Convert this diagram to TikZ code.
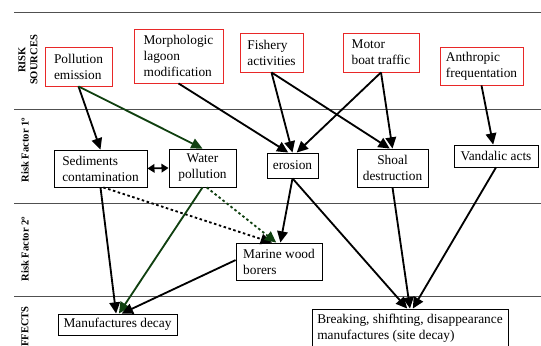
\documentclass[tikz,border=0pt]{standalone}
\usepackage{fontspec}
\setmainfont{Liberation Serif}
\usetikzlibrary{arrows.meta,positioning}
\definecolor{srcred}{RGB}{232,40,40}
\definecolor{darkgrn}{RGB}{16,64,16}
\definecolor{rowline}{RGB}{80,80,80}

\begin{document}
\begin{tikzpicture}[
    x=0.025cm,y=-0.025cm,
    src/.style={rectangle,draw=srcred,line width=0.6pt,align=left,font=\fontsize{9.5}{11.4}\selectfont,inner sep=2pt},
    fact/.style={rectangle,draw,line width=0.6pt,align=left,font=\fontsize{9.5}{11.4}\selectfont,inner sep=2pt},
    rowlab/.style={rotate=90,font=\fontsize{7.5}{8.5}\selectfont\bfseries,align=center},
    arrow/.style={line width=1.3pt,-{Triangle[length=8pt,width=7.5pt]}},
    dotarrow/.style={arrow,dash pattern=on 1.8pt off 1.8pt},
    bidir/.style={line width=1.3pt,{Triangle[length=5pt,width=6pt]}-{Triangle[length=5pt,width=6pt]}}
]
    \useasboundingbox (0,0) rectangle (541,346);

    % Row separators and row labels
    \draw[rowline,line width=0.7pt] (14,12) -- (541,12);
    \draw[rowline,line width=0.7pt] (14,109) -- (541,109);
    \draw[rowline,line width=0.7pt] (14,203) -- (541,203);
    \draw[rowline,line width=0.7pt] (14,296) -- (541,296);
    \node[rowlab] (lab_src) at (28,60) {RISK\\SOURCES};
    \node[rowlab] (lab_rf1) at (25,150) {Risk Factor 1º};
    \node[rowlab] (lab_rf2) at (25,249) {Risk Factor 2º};
    \node[rowlab] (lab_eff) at (25,330) {EFFECTS};

    % Risk sources — top
    \node[src,minimum width=1.675cm,minimum height=0.975cm] (src_poll) at (78.5,66.5) {Pollution\\emission};
    \node[src,minimum width=2.225cm,minimum height=1.35cm] (src_morph) at (178.5,56) {Morphologic\\lagoon\\modification};
    \node[src,minimum width=1.575cm,minimum height=0.975cm] (src_fish) at (271.5,52.5) {Fishery\\activities};
    \node[src,minimum width=1.9cm,minimum height=0.975cm] (src_motor) at (381,52.5) {Motor\\boat traffic};
    \node[src,minimum width=2.075cm,minimum height=0.95cm] (src_anthr) at (481.5,66) {Anthropic\\frequentation};

    % Risk factor 1 — middle
    \node[fact,minimum width=2.325cm,minimum height=0.925cm] (rf_sed) at (100.5,168.5) {Sediments\\contamination};
    \node[fact,align=center,minimum width=1.675cm,minimum height=0.95cm] (rf_water) at (202.5,168) {Water\\pollution};
    \node[fact,minimum width=1.275cm,minimum height=0.625cm] (rf_eros) at (292.5,165.5) {erosion};
    \node[fact,align=center,minimum width=1.775cm,minimum height=0.95cm] (rf_shoal) at (392.5,168) {Shoal\\destruction};
    \node[fact,minimum width=2.1cm,minimum height=0.55cm] (rf_vand) at (496,156) {Vandalic acts};

    % Risk factor 2
    \node[fact,minimum width=2.15cm,minimum height=0.925cm] (rf_borers) at (279,261.5) {Marine wood\\borers};

    % Effects — bottom
    \node[fact,minimum width=2.975cm,minimum height=0.525cm] (eff_manuf) at (117.5,324.5) {Manufactures decay};
    \node[fact,minimum width=4.9cm,minimum height=0.95cm] (eff_break) at (410,328) {Breaking, shifhting, disappearance\\manufactures (site decay)};

    % Sources -> factors
    \draw[arrow] (src_poll.south) -- (rf_sed.north);
    \draw[arrow,darkgrn] (src_poll.south) -- (rf_water.north);
    \draw[arrow] (src_morph.south) -- ([xshift=-3pt]rf_eros.north);
    \draw[arrow] (src_fish.south) -- (rf_eros.north);
    \draw[arrow] (src_fish.south) -- ([xshift=-2pt]rf_shoal.north);
    \draw[arrow] (src_motor.south) -- ([xshift=3pt]rf_eros.north);
    \draw[arrow] (src_motor.south) -- (rf_shoal.north);
    \draw[arrow] (src_anthr.south) -- ([xshift=-2pt]rf_vand.north);
    \draw[bidir] (rf_sed.east) -- (rf_water.west);

    % Factors -> borers
    \draw[dotarrow] ([xshift=2pt]rf_sed.south) -- ([xshift=-5pt]rf_borers.north);
    \draw[dotarrow,darkgrn] ([xshift=3pt]rf_water.south) -- ([xshift=-2pt]rf_borers.north);
    \draw[arrow] (rf_eros.south) -- ([xshift=1pt]rf_borers.north);

    % Factors -> effects
    \draw[arrow] (rf_sed.south) -- ([xshift=-1pt]eff_manuf.north);
    \draw[arrow,darkgrn] (rf_water.south) -- ([xshift=1pt]eff_manuf.north);
    \draw[arrow] ([yshift=1pt]rf_borers.west) -- ([xshift=3pt]eff_manuf.north);
    \draw[arrow] (rf_eros.south) -- ([xshift=-2pt]eff_break.north);
    \draw[arrow] (rf_shoal.south) -- (eff_break.north);
    \draw[arrow] (rf_vand.south) -- ([xshift=2pt]eff_break.north);
\end{tikzpicture}
\end{document}
